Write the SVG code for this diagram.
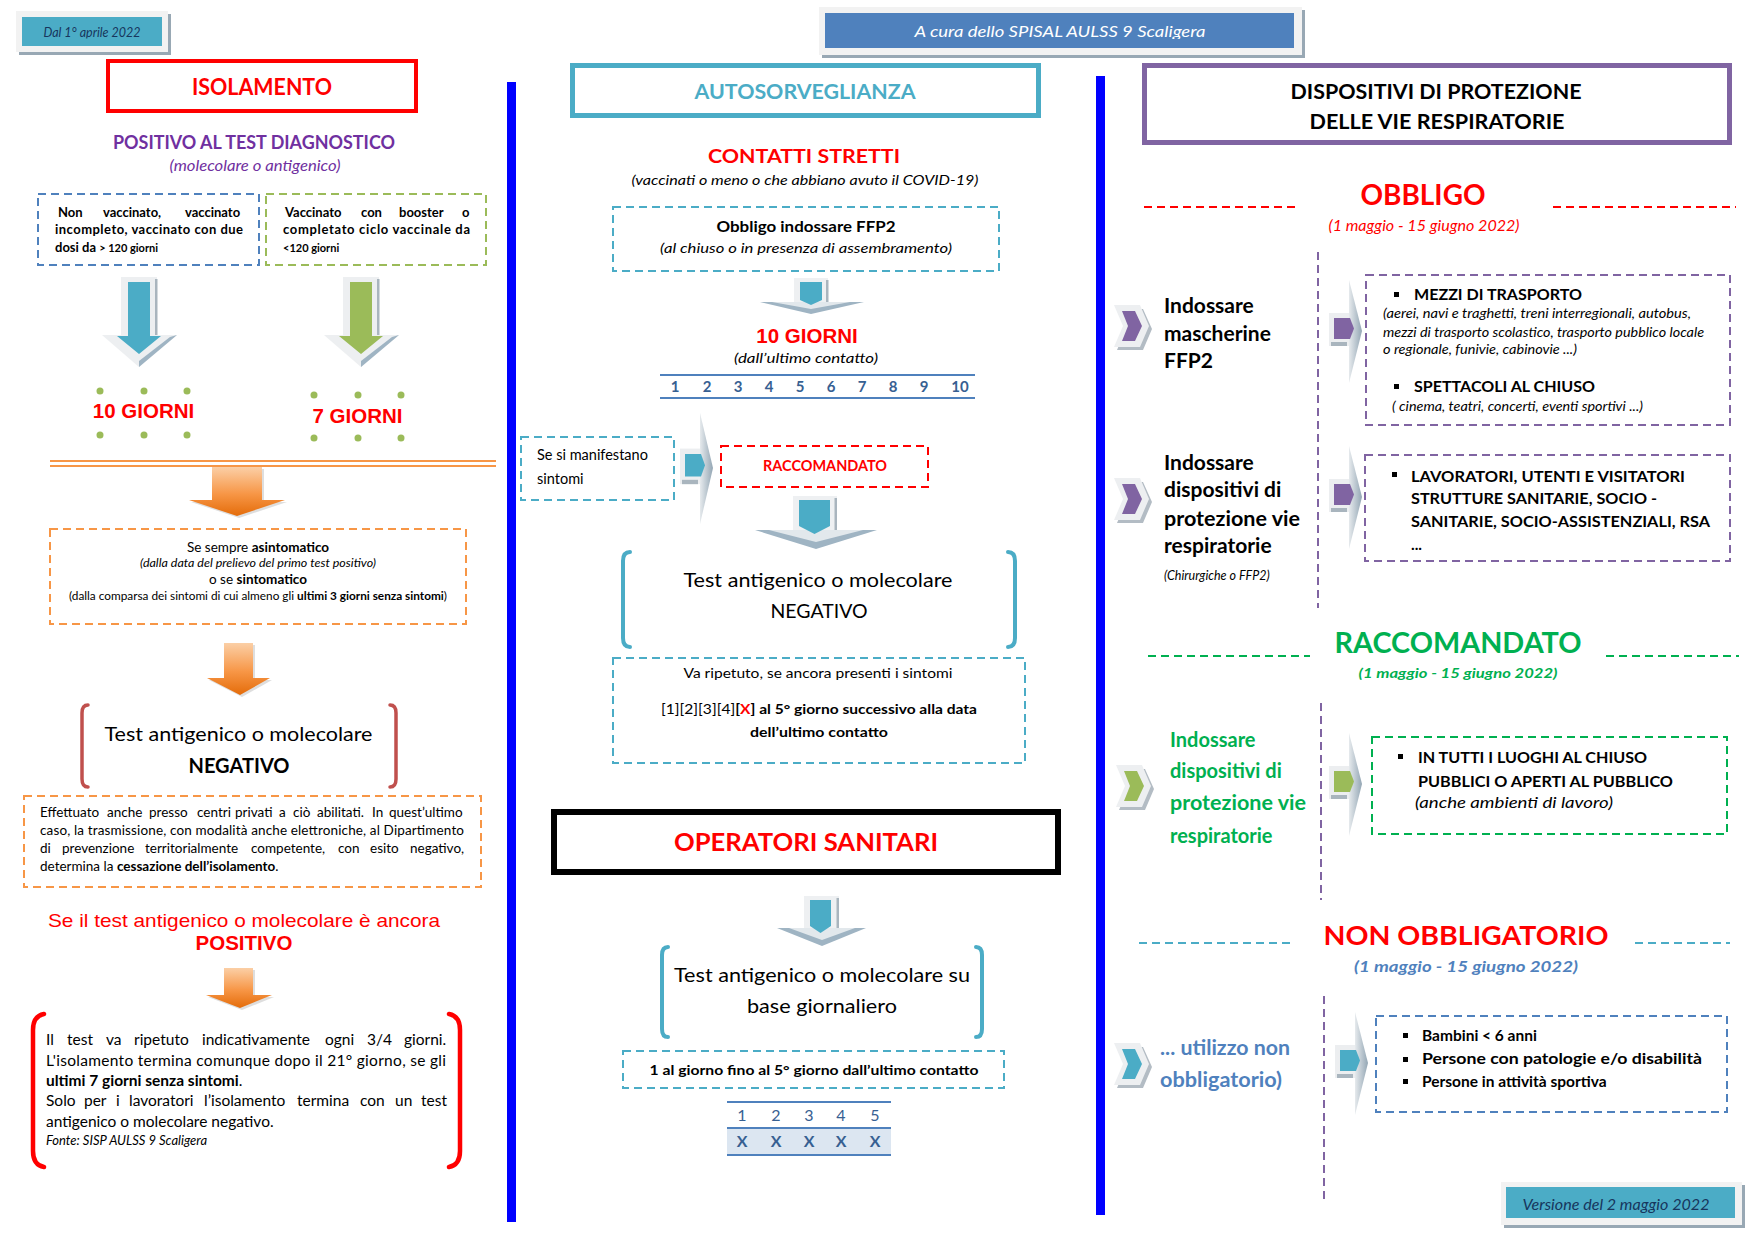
<svg xmlns="http://www.w3.org/2000/svg" width="1755" height="1241" viewBox="0 0 1755 1241">
<defs>
<style>
text{font-family:Lato,"Liberation Sans",sans-serif}
.ar{font-family:"Liberation Sans",Arial,sans-serif}
.b{font-weight:bold}
.i{font-style:italic}
.m{text-anchor:middle}
.d{fill:none;stroke-width:2;stroke-dasharray:8 5}
.db{stroke:#4F81BD}.dg{stroke:#9BBB59}.do{stroke:#F79646}.dt{stroke:#4BACC6}.dr{stroke:#FF0000}.dp{stroke:#8064A2}.dgg{stroke:#00B050}
.red{fill:#FF0000}
.brk{fill:none;stroke-linecap:round}
.dot{fill:#9BBB59}
.tb{fill:#376092}
</style>
<linearGradient id="og" x1="0" y1="0" x2="0" y2="1"><stop offset="0" stop-color="#FBCFA6"/><stop offset="0.55" stop-color="#F79646"/><stop offset="1" stop-color="#E46C0A"/></linearGradient>
<linearGradient id="gg" x1="0" y1="0" x2="1" y2="0"><stop offset="0" stop-color="#E6EAED"/><stop offset="1" stop-color="#93A6B4"/></linearGradient>
<g id="ptr">
<rect x="-20" y="33" width="20" height="33" fill="#ECEEF0"/>
<rect x="-18" y="62" width="16" height="4" fill="#A9B5BE"/>
<polygon points="0,0 13,51 0,103" fill="url(#gg)"/>
<polygon points="-15,38 1,38 5,48.5 1,59 -15,59"/>
</g>
<g id="chev">
<polygon points="3,4 29,4 38,24 29,45 3,45 12,24" fill="#B3BCC4"/>
<polygon points="0,0 26,0 35,21 26,42 0,42 9,21" fill="#EDEFF1"/>
<polygon points="8,6 21,6 28,21 21,36 8,36 14,21"/>
</g>
<clipPath id="cDal"><rect x="16" y="11" width="152" height="27.5"/></clipPath>
<clipPath id="cCura"><rect x="819" y="7" width="483" height="32"/></clipPath>
<clipPath id="cVer"><rect x="1501" y="1182" width="241" height="31"/></clipPath>
</defs>
<rect width="1755" height="1241" fill="#FFFFFF"/>

<!-- separators -->
<rect x="507" y="82" width="9" height="1140" fill="#0000FF"/>
<rect x="1096" y="76" width="9" height="1139" fill="#0000FF"/>

<!-- badges -->
<g id="badge-dal">
<rect x="19" y="14" width="152" height="41" fill="#98A8B4"/>
<rect x="16" y="11" width="152" height="41" fill="#F2F2F2"/>
<rect x="22" y="17" width="140" height="29" fill="#4BACC6"/>
<g clip-path="url(#cDal)"><text x="92" y="37" class="i m" font-size="12.5" fill="#17365D">Dal 1° aprile 2022</text></g>
</g>
<g id="badge-cura">
<rect x="822" y="10" width="483" height="48" fill="#98A8B4"/>
<rect x="819" y="7" width="483" height="48" fill="#F2F2F2"/>
<rect x="825" y="13" width="469" height="35" fill="#4F81BD"/>
<g clip-path="url(#cCura)"><text x="1060" y="37" class="i m" font-size="15.5" fill="#FFFFFF" textLength="291" lengthAdjust="spacingAndGlyphs">A cura dello SPISAL AULSS 9 Scaligera</text></g>
</g>
<g id="badge-versione">
<rect x="1504" y="1185" width="241" height="43" fill="#98A8B4"/>
<rect x="1501" y="1182" width="241" height="43" fill="#F2F2F2"/>
<rect x="1506" y="1187" width="229" height="31" fill="#4BACC6"/>
<g clip-path="url(#cVer)"><text x="1616" y="1210" class="i m" font-size="14.5" fill="#17365D" textLength="187" lengthAdjust="spacingAndGlyphs">Versione del 2 maggio 2022</text></g>
</g>

<!-- ===== ISOLAMENTO column ===== -->
<g id="isolamento-title">
<rect x="108" y="61" width="308" height="50" fill="none" stroke="#FF0000" stroke-width="4"/>
<text x="262" y="95" class="b m red" font-size="22" textLength="140" lengthAdjust="spacingAndGlyphs">ISOLAMENTO</text>
</g>
<g id="positivo-test">
<text x="254" y="149" class="b m" font-size="18" fill="#7030A0" textLength="282" lengthAdjust="spacingAndGlyphs">POSITIVO AL TEST DIAGNOSTICO</text>
<text x="255" y="171" class="i m" font-size="14.5" fill="#7030A0" textLength="171" lengthAdjust="spacingAndGlyphs">(molecolare o antigenico)</text>
</g>
<g id="non-vaccinato">
<rect x="38" y="194" width="221" height="71" class="d db"/>
<text y="217" class="b" font-size="13"><tspan x="58">Non</tspan><tspan x="103">vaccinato,</tspan><tspan x="185">vaccinato</tspan></text>
<text x="55" y="234" class="b" font-size="13" textLength="188" lengthAdjust="spacing">incompleto, vaccinato con due</text>
<text x="55" y="252" class="b" font-size="13">dosi da <tspan font-size="11">&gt; 120 giorni</tspan></text>
</g>
<g id="vaccinato-booster">
<rect x="266" y="194" width="220" height="71" class="d dg"/>
<text y="217" class="b" font-size="13"><tspan x="285">Vaccinato</tspan><tspan x="361">con</tspan><tspan x="399">booster</tspan><tspan x="462">o</tspan></text>
<text x="283" y="234" class="b" font-size="13" textLength="187" lengthAdjust="spacing">completato ciclo vaccinale da</text>
<text x="283" y="252" class="b" font-size="11">&lt;120 giorni</text>
</g>
<g id="dieci-giorni">
<circle cx="100" cy="391" r="3.5" class="dot"/><circle cx="144" cy="391" r="3.5" class="dot"/><circle cx="187" cy="391" r="3.5" class="dot"/>
<circle cx="100" cy="435" r="3.5" class="dot"/><circle cx="144" cy="435" r="3.5" class="dot"/><circle cx="187" cy="435" r="3.5" class="dot"/>
<text x="143.5" y="418" class="ar b m red" font-size="20.5">10 GIORNI</text>
</g>
<g id="sette-giorni">
<circle cx="314" cy="395" r="3.5" class="dot"/><circle cx="358" cy="395" r="3.5" class="dot"/><circle cx="401" cy="395" r="3.5" class="dot"/>
<circle cx="314" cy="438" r="3.5" class="dot"/><circle cx="358" cy="438" r="3.5" class="dot"/><circle cx="401" cy="438" r="3.5" class="dot"/>
<text x="357.5" y="423" class="ar b m red" font-size="20.5">7 GIORNI</text>
</g>
<g id="sintomatico">
<rect x="50" y="529" width="416" height="95" class="d do"/>
<text x="258" y="552" class="m" font-size="13.5">Se sempre <tspan class="b">asintomatico</tspan></text>
<text x="258" y="567" class="i m" font-size="11" textLength="236" lengthAdjust="spacingAndGlyphs">(dalla data del prelievo del primo test positivo)</text>
<text x="258" y="584" class="m" font-size="13.5">o se <tspan class="b">sintomatico</tspan></text>
<text x="258" y="600" class="m" font-size="10.5" textLength="378" lengthAdjust="spacingAndGlyphs">(dalla comparsa dei sintomi di cui almeno gli <tspan class="b">ultimi 3 giorni senza sintomi</tspan>)</text>
</g>
<g id="test-negativo-1">
<path d="M88,705 Q82,705 82,713 L82,779 Q82,787 88,787" class="brk" stroke="#C0504D" stroke-width="3.5"/>
<path d="M390,705 Q396,705 396,713 L396,779 Q396,787 390,787" class="brk" stroke="#C0504D" stroke-width="3.5"/>
<text x="238.5" y="741" class="m" font-size="20" textLength="268" lengthAdjust="spacingAndGlyphs">Test antigenico o molecolare</text>
<text x="239" y="773" class="b m" font-size="20" textLength="101" lengthAdjust="spacingAndGlyphs">NEGATIVO</text>
</g>
<g id="cessazione">
<rect x="24" y="796" width="457" height="91" class="d do"/>
<text y="817" font-size="13.5"><tspan x="40">Effettuato</tspan><tspan x="107">anche</tspan><tspan x="149">presso</tspan><tspan x="197">centri</tspan><tspan x="235">privati</tspan><tspan x="279">a</tspan><tspan x="293">ciò</tspan><tspan x="317">abilitati.</tspan><tspan x="372">In</tspan><tspan x="389">quest’ultimo</tspan></text>
<text x="40" y="835" font-size="13.5" textLength="424" lengthAdjust="spacing">caso, la trasmissione, con modalità anche elettroniche, al Dipartimento</text>
<text y="853" font-size="13.5"><tspan x="40">di</tspan><tspan x="62">prevenzione</tspan><tspan x="145">territorialmente</tspan><tspan x="251">competente,</tspan><tspan x="338">con</tspan><tspan x="370">esito</tspan><tspan x="410">negativo,</tspan></text>
<text x="40" y="871" font-size="13.5">determina la <tspan class="b">cessazione dell’isolamento</tspan>.</text>
</g>
<g id="ancora-positivo">
<text x="244" y="927" class="ar m red" font-size="19" textLength="392" lengthAdjust="spacingAndGlyphs">Se il test antigenico o molecolare è ancora</text>
<text x="244" y="950" class="ar b m red" font-size="20.5">POSITIVO</text>
</g>
<g id="ripetizione">
<path d="M44,1014 Q33,1016 33,1030 L33,1151 Q33,1165 44,1167" class="brk" stroke="#FF0000" stroke-width="4.5"/>
<path d="M449,1014 Q460,1016 460,1030 L460,1151 Q460,1165 449,1167" class="brk" stroke="#FF0000" stroke-width="4.5"/>
<text y="1045" font-size="15.5"><tspan x="46">Il</tspan><tspan x="67">test</tspan><tspan x="106">va</tspan><tspan x="134">ripetuto</tspan><tspan x="202">indicativamente</tspan><tspan x="325">ogni</tspan><tspan x="367">3/4</tspan><tspan x="404">giorni.</tspan></text>
<text x="46" y="1066" font-size="15.5" textLength="400" lengthAdjust="spacing">L'isolamento termina comunque dopo il 21° giorno, se gli</text>
<text x="46" y="1086" font-size="15.5"><tspan class="b">ultimi 7 giorni senza sintomi</tspan>.</text>
<text y="1106" font-size="15.5"><tspan x="46">Solo</tspan><tspan x="84">per</tspan><tspan x="116">i</tspan><tspan x="129">lavoratori</tspan><tspan x="204">l’isolamento</tspan><tspan x="297">termina</tspan><tspan x="360">con</tspan><tspan x="395">un</tspan><tspan x="421">test</tspan></text>
<text x="46" y="1127" font-size="15.5">antigenico o molecolare negativo.</text>
<text x="46" y="1145" class="i" font-size="13">Fonte: SISP AULSS 9 Scaligera</text>
</g>

<!-- ===== AUTOSORVEGLIANZA column ===== -->
<g id="autosorveglianza-title">
<rect x="572.5" y="65.5" width="466" height="50" fill="none" stroke="#4BACC6" stroke-width="5"/>
<text x="805" y="99" class="b m" font-size="21" fill="#4BACC6" textLength="221" lengthAdjust="spacingAndGlyphs">AUTOSORVEGLIANZA</text>
</g>
<g id="contatti-stretti">
<text x="804" y="163" class="b m red" font-size="19.5" textLength="192" lengthAdjust="spacingAndGlyphs">CONTATTI STRETTI</text>
<text x="805" y="185" class="i m" font-size="14" textLength="347" lengthAdjust="spacingAndGlyphs">(vaccinati o meno o che abbiano avuto il COVID-19)</text>
</g>
<g id="obbligo-ffp2">
<rect x="613" y="207" width="386" height="64" class="d dt"/>
<text x="806" y="232" class="b m" font-size="15" textLength="179" lengthAdjust="spacingAndGlyphs">Obbligo indossare FFP2</text>
<text x="806" y="253" class="i m" font-size="14" textLength="292" lengthAdjust="spacingAndGlyphs">(al chiuso o in presenza di assembramento)</text>
</g>
<g id="dieci-giorni-contatto">
<text x="807" y="343" class="ar b m red" font-size="20.5">10 GIORNI</text>
<text x="806" y="363" class="i m" font-size="14" textLength="144" lengthAdjust="spacingAndGlyphs">(dall’ultimo contatto)</text>
<line x1="660" y1="375" x2="975" y2="375" stroke="#4F81BD" stroke-width="2"/>
<line x1="660" y1="398" x2="975" y2="398" stroke="#4F81BD" stroke-width="2"/>
<g class="b tb" font-size="15" text-anchor="middle">
<text x="675" y="392">1</text><text x="707" y="392">2</text><text x="738" y="392">3</text><text x="769" y="392">4</text><text x="800" y="392">5</text><text x="831" y="392">6</text><text x="862" y="392">7</text><text x="893" y="392">8</text><text x="924" y="392">9</text><text x="960" y="392">10</text>
</g>
</g>
<g id="se-sintomi">
<rect x="521" y="437" width="153" height="63" class="d dt"/>
<text x="537" y="460" font-size="14.5">Se si manifestano</text>
<text x="537" y="484" font-size="14.5">sintomi</text>
</g>
<g id="raccomandato-box">
<rect x="721" y="446" width="207" height="41" class="d dr"/>
<text x="825" y="471" class="b m red" font-size="14.5" textLength="124" lengthAdjust="spacingAndGlyphs">RACCOMANDATO</text>
</g>
<g id="test-negativo-2">
<path d="M630,552 Q623,552 623,561 L623,638 Q623,647 630,647" class="brk" stroke="#4BACC6" stroke-width="4"/>
<path d="M1008,552 Q1015,552 1015,561 L1015,638 Q1015,647 1008,647" class="brk" stroke="#4BACC6" stroke-width="4"/>
<text x="818" y="587" class="m" font-size="20" textLength="269" lengthAdjust="spacingAndGlyphs">Test antigenico o molecolare</text>
<text x="819" y="618" class="m" font-size="20" textLength="97" lengthAdjust="spacingAndGlyphs">NEGATIVO</text>
</g>
<g id="ripetere-5-giorno">
<rect x="613" y="658" width="412" height="105" class="d dt"/>
<text x="818" y="678" class="m" font-size="13.5" textLength="269" lengthAdjust="spacingAndGlyphs">Va ripetuto, se ancora presenti i sintomi</text>
<text x="819" y="714" class="m" font-size="13.5" textLength="316" lengthAdjust="spacingAndGlyphs">[1][2][3][4]<tspan class="b">[<tspan class="red">X</tspan>] al 5° giorno successivo alla data</tspan></text>
<text x="819" y="737" class="b m" font-size="13.5" textLength="138" lengthAdjust="spacingAndGlyphs">dell’ultimo contatto</text>
</g>
<g id="operatori-sanitari">
<rect x="554" y="812" width="504" height="60" fill="none" stroke="#000000" stroke-width="6"/>
<text x="806" y="851" class="b m red" font-size="25" textLength="264" lengthAdjust="spacingAndGlyphs">OPERATORI SANITARI</text>
</g>
<g id="test-giornaliero">
<path d="M668,947 Q662,947 662,955 L662,1029 Q662,1037 668,1037" class="brk" stroke="#4BACC6" stroke-width="4"/>
<path d="M976,947 Q982,947 982,955 L982,1029 Q982,1037 976,1037" class="brk" stroke="#4BACC6" stroke-width="4"/>
<text x="822" y="982" class="m" font-size="20" textLength="296" lengthAdjust="spacingAndGlyphs">Test antigenico o molecolare su</text>
<text x="822" y="1013" class="m" font-size="20" textLength="150" lengthAdjust="spacingAndGlyphs">base giornaliero</text>
</g>
<g id="uno-al-giorno">
<rect x="623" y="1051" width="381" height="37" class="d dt"/>
<text x="814" y="1075" class="b m" font-size="13.5" textLength="329" lengthAdjust="spacingAndGlyphs">1 al giorno fino al 5° giorno dall’ultimo contatto</text>
<rect x="727" y="1129" width="164" height="26" fill="#DCE6F1"/>
<line x1="727" y1="1102" x2="891" y2="1102" stroke="#4F81BD" stroke-width="2"/>
<line x1="727" y1="1128" x2="891" y2="1128" stroke="#4F81BD" stroke-width="2"/>
<line x1="727" y1="1155" x2="891" y2="1155" stroke="#4F81BD" stroke-width="2"/>
<g class="tb" font-size="16" text-anchor="middle">
<text x="742" y="1121">1</text><text x="776" y="1121">2</text><text x="809" y="1121">3</text><text x="841" y="1121">4</text><text x="875" y="1121">5</text>
</g>
<g class="b tb" font-size="16" text-anchor="middle">
<text x="742" y="1147">X</text><text x="776" y="1147">X</text><text x="809" y="1147">X</text><text x="841" y="1147">X</text><text x="875" y="1147">X</text>
</g>
</g>

<!-- ===== DISPOSITIVI column ===== -->
<g id="dispositivi-title">
<rect x="1144.5" y="65.5" width="585" height="77" fill="none" stroke="#8064A2" stroke-width="5"/>
<text x="1436" y="99" class="b m" font-size="21.5" textLength="291" lengthAdjust="spacingAndGlyphs">DISPOSITIVI DI PROTEZIONE</text>
<text x="1437" y="129" class="b m" font-size="21.5" textLength="255" lengthAdjust="spacingAndGlyphs">DELLE VIE RESPIRATORIE</text>
</g>
<g id="obbligo-header">
<line x1="1144" y1="207" x2="1299" y2="207" class="d dr"/>
<line x1="1553" y1="207" x2="1736" y2="207" class="d dr"/>
<text x="1423" y="205" class="b m red" font-size="28" textLength="125" lengthAdjust="spacingAndGlyphs">OBBLIGO</text>
<text x="1424" y="231" class="i m red" font-size="14.5" textLength="191" lengthAdjust="spacingAndGlyphs">(1 maggio - 15 giugno 2022)</text>
<line x1="1318" y1="252" x2="1318" y2="608" class="d dp"/>
</g>
<g id="ffp2-label">
<use href="#chev" transform="translate(1114,305)" fill="#8064A2"/>
<text x="1164" y="313" class="b" font-size="21">Indossare</text>
<text x="1164" y="341" class="b" font-size="21">mascherine</text>
<text x="1164" y="368" class="b" font-size="21">FFP2</text>
</g>
<g id="trasporti-box">
<rect x="1366" y="275" width="364" height="150" class="d dp"/>
<rect x="1394" y="292" width="5" height="5"/>
<text x="1414" y="300" class="b" font-size="15.5" textLength="168" lengthAdjust="spacingAndGlyphs">MEZZI DI TRASPORTO</text>
<text x="1383" y="318" class="i" font-size="13" textLength="308" lengthAdjust="spacingAndGlyphs">(aerei, navi e traghetti, treni interregionali, autobus,</text>
<text x="1383" y="337" class="i" font-size="13" textLength="321" lengthAdjust="spacingAndGlyphs">mezzi di trasporto scolastico, trasporto pubblico locale</text>
<text x="1383" y="354" class="i" font-size="13" textLength="194" lengthAdjust="spacingAndGlyphs">o regionale, funivie, cabinovie ...)</text>
<rect x="1394" y="384" width="5" height="5"/>
<text x="1414" y="392" class="b" font-size="15.5" textLength="181" lengthAdjust="spacingAndGlyphs">SPETTACOLI AL CHIUSO</text>
<text x="1392" y="411" class="i" font-size="13" textLength="251" lengthAdjust="spacingAndGlyphs">( cinema, teatri, concerti, eventi sportivi ...)</text>
</g>
<g id="dispositivi-label">
<use href="#chev" transform="translate(1114,478)" fill="#8064A2"/>
<text x="1164" y="470" class="b" font-size="21">Indossare</text>
<text x="1164" y="497" class="b" font-size="21">dispositivi di</text>
<text x="1164" y="526" class="b" font-size="21" textLength="136" lengthAdjust="spacingAndGlyphs">protezione vie</text>
<text x="1164" y="553" class="b" font-size="21">respiratorie</text>
<text x="1164" y="580" class="i" font-size="12.5">(Chirurgiche o FFP2)</text>
</g>
<g id="sanitarie-box">
<rect x="1365" y="455" width="365" height="106" class="d dp"/>
<rect x="1392" y="472" width="5" height="5"/>
<text x="1411" y="482" class="b" font-size="15.5" textLength="274" lengthAdjust="spacingAndGlyphs">LAVORATORI, UTENTI E VISITATORI</text>
<text x="1411" y="504" class="b" font-size="15.5" textLength="246" lengthAdjust="spacingAndGlyphs">STRUTTURE SANITARIE, SOCIO -</text>
<text x="1411" y="527" class="b" font-size="15.5" textLength="299" lengthAdjust="spacingAndGlyphs">SANITARIE, SOCIO-ASSISTENZIALI, RSA</text>
<text x="1411" y="550" class="b" font-size="15.5">...</text>
</g>
<g id="raccomandato-header">
<line x1="1148" y1="656" x2="1310" y2="656" class="d dgg"/>
<line x1="1606" y1="656" x2="1739" y2="656" class="d dgg"/>
<text x="1458" y="653" class="b m" font-size="28.5" fill="#00B050" textLength="247" lengthAdjust="spacingAndGlyphs">RACCOMANDATO</text>
<text x="1458" y="678" class="b i m" font-size="14" fill="#00B050" textLength="199" lengthAdjust="spacingAndGlyphs">(1 maggio -  15 giugno 2022)</text>
<line x1="1321" y1="703" x2="1321" y2="900" class="d dp"/>
</g>
<g id="raccomandato-label">
<use href="#chev" transform="translate(1116,765)" fill="#9BBB59"/>
<text x="1170" y="747" class="b" font-size="20" fill="#00B050">Indossare</text>
<text x="1170" y="778" class="b" font-size="20" fill="#00B050">dispositivi di</text>
<text x="1170" y="810" class="b" font-size="20" fill="#00B050" textLength="136" lengthAdjust="spacingAndGlyphs">protezione vie</text>
<text x="1170" y="843" class="b" font-size="20" fill="#00B050">respiratorie</text>
</g>
<g id="luoghi-chiusi-box">
<rect x="1372" y="737" width="355" height="97" class="d dgg"/>
<rect x="1398" y="754" width="5" height="5"/>
<text x="1418" y="763" class="b" font-size="15.5" textLength="229" lengthAdjust="spacingAndGlyphs">IN TUTTI I LUOGHI AL CHIUSO</text>
<text x="1418" y="787" class="b" font-size="15.5" textLength="255" lengthAdjust="spacingAndGlyphs">PUBBLICI O APERTI AL PUBBLICO</text>
<text x="1415" y="808" class="i" font-size="15.5" textLength="198" lengthAdjust="spacingAndGlyphs">(anche ambienti di lavoro)</text>
</g>
<g id="non-obbligatorio-header">
<line x1="1139" y1="943" x2="1293" y2="943" class="d dt"/>
<line x1="1635" y1="943" x2="1730" y2="943" class="d dt"/>
<text x="1466" y="945" class="b m red" font-size="27" textLength="285" lengthAdjust="spacingAndGlyphs">NON OBBLIGATORIO</text>
<text x="1466" y="972" class="b i m" font-size="16" fill="#4F81BD" textLength="224" lengthAdjust="spacingAndGlyphs">(1 maggio -  15 giugno 2022)</text>
<line x1="1324" y1="996" x2="1324" y2="1203" class="d dp"/>
</g>
<g id="non-obbligatorio-label">
<use href="#chev" transform="translate(1114,1043)" fill="#4BACC6"/>
<text x="1160" y="1055" class="b" font-size="20" fill="#4F81BD" textLength="130" lengthAdjust="spacingAndGlyphs">... utilizzo non</text>
<text x="1160" y="1087" class="b" font-size="20" fill="#4F81BD" textLength="122" lengthAdjust="spacingAndGlyphs">obbligatorio)</text>
</g>
<g id="esenti-box">
<rect x="1376" y="1016" width="351" height="96" class="d db"/>
<rect x="1403" y="1033" width="5" height="5"/>
<rect x="1403" y="1057" width="5" height="5"/>
<rect x="1403" y="1079" width="5" height="5"/>
<text x="1422" y="1041" class="b" font-size="15.5">Bambini &lt; 6 anni</text>
<text x="1422" y="1064" class="b" font-size="15.5" textLength="280" lengthAdjust="spacingAndGlyphs">Persone con patologie e/o disabilità</text>
<text x="1422" y="1087" class="b" font-size="15.5">Persone in attività sportiva</text>
</g>

<!-- ===== connectors ===== -->
<g id="connectors">
<line x1="50" y1="461" x2="496" y2="461" stroke="#F79646" stroke-width="2"/>
<line x1="50" y1="466" x2="496" y2="466" stroke="#F79646" stroke-width="2"/>
<!-- big blue arrow -->
<polygon points="121,277 157,277 157,335 177,335 139,367 102,335 121,335" fill="#EDEFF1"/>
<polygon points="177,335 139,367 139,361 170,337" fill="#9FB4C3"/>
<rect x="155" y="279" width="2.5" height="56" fill="#A9B5BE"/>
<polygon points="128,282 150,282 150,336 161,336 139,354 117,336 128,336" fill="#4BACC6"/>
<!-- big green arrow -->
<polygon points="343,277 379,277 379,335 399,335 361,367 324,335 343,335" fill="#EDEFF1"/>
<polygon points="399,335 361,367 361,361 392,337" fill="#9FB4C3"/>
<rect x="377" y="279" width="2.5" height="56" fill="#A9B5BE"/>
<polygon points="350,282 372,282 372,336 383,336 361,354 339,336 350,336" fill="#9BBB59"/>
<!-- orange arrows -->
<polygon points="214,469 264,469 264,502 287,502 239,518 191,502 214,502" fill="#C8C8C8" opacity="0.6"/>
<polygon points="212,467 262,467 262,500 285,500 237,516 189,500 212,500" fill="url(#og)"/>
<polygon points="226,645 255,645 255,680 272,680 242,697 209,680 226,680" fill="#C8C8C8" opacity="0.6"/>
<polygon points="224,643 253,643 253,678 270,678 240,695 207,678 224,678" fill="url(#og)"/>
<polygon points="226,970 255,970 255,997 274,997 242,1010 208,997 226,997" fill="#C8C8C8" opacity="0.6"/>
<polygon points="224,968 253,968 253,995 272,995 240,1008 206,995 224,995" fill="url(#og)"/>
<!-- teal arrow after FFP2 -->
<rect x="794" y="278" width="34" height="26" fill="#EEF0F2"/>
<rect x="826" y="280" width="2.5" height="22" fill="#A9B5BE"/>
<polygon points="760,302 864,302 811,314" fill="#9FB4C3"/>
<polygon points="772,302 850,302 811,309" fill="#E2E8EC"/>
<polygon points="800,282 822,282 822,300 811,305 800,300" fill="#4BACC6"/>
<!-- pointer sintomi -> raccomandato -->
<use href="#ptr" transform="translate(700,413) scale(1,1.078)" fill="#4BACC6"/>
<!-- teal arrow after RACCOMANDATO -->
<rect x="793" y="496" width="44" height="36" fill="#EEF0F2"/>
<rect x="834.5" y="498" width="2.5" height="32" fill="#A9B5BE"/>
<polygon points="755,530 877,530 816,549" fill="#9FB4C3"/>
<polygon points="769,530 863,530 816,542" fill="#E2E8EC"/>
<polygon points="799,500 830,500 830,526 814.5,534 799,526" fill="#4BACC6"/>
<!-- teal arrow after OPERATORI -->
<rect x="804" y="896" width="35" height="33" fill="#EEF0F2"/>
<rect x="836.5" y="898" width="2.5" height="30" fill="#A9B5BE"/>
<polygon points="777,928 866,928 822,946" fill="#9FB4C3"/>
<polygon points="789,928 855,928 822,940" fill="#E2E8EC"/>
<polygon points="810,900 831,900 831,926 820.5,933 810,926" fill="#4BACC6"/>
<!-- pointers into right-column boxes -->
<use href="#ptr" transform="translate(1349,280)" fill="#8064A2"/>
<use href="#ptr" transform="translate(1349,446)" fill="#8064A2"/>
<use href="#ptr" transform="translate(1349,733)" fill="#9BBB59"/>
<use href="#ptr" transform="translate(1355,1012)" fill="#4BACC6"/>
</g>
</svg>
